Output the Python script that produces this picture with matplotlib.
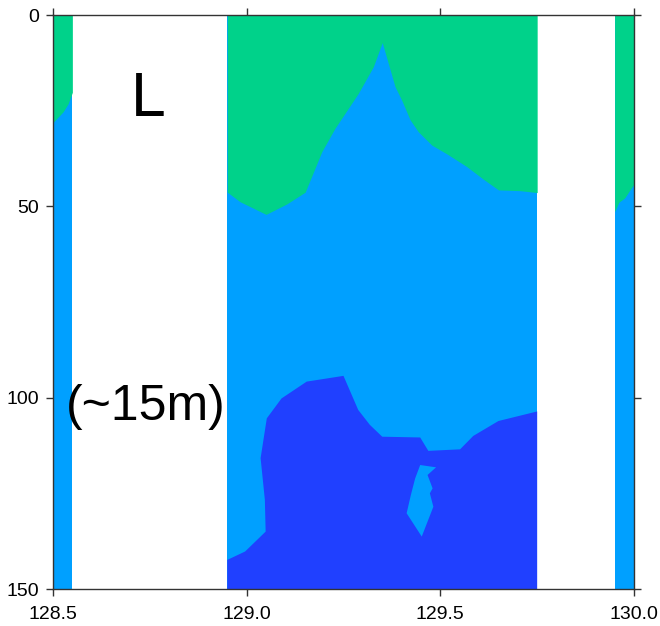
import numpy as np
import matplotlib
matplotlib.use("Agg")
import matplotlib.pyplot as plt

# Colour classes of the section
c_green = "#00D28A"
c_light = "#00A0FF"
c_dark = "#2040FF"

# Longitude ranges where the section has data
blocks = [(128.50, 128.55), (128.95, 129.75), (129.95, 130.00)]

# Depth of the green / light-blue boundary (m)
west_lon = [128.500, 128.526, 128.539, 128.550]
west_depth = [28.1, 25.3, 23.2, 20.2]

mid_lon = [128.950, 128.983, 129.050, 129.103, 129.151, 129.194, 129.228,
           129.288, 129.327, 129.350, 129.383, 129.400, 129.422, 129.443,
           129.478, 129.517, 129.568, 129.611, 129.650, 129.706, 129.750]
mid_depth = [46.3, 48.8, 52.1, 49.4, 46.3, 35.7, 29.6,
             20.5, 13.5, 7.2, 18.7, 22.2, 27.4, 30.5,
             34.0, 36.3, 39.6, 42.9, 45.7, 45.9, 46.4]

east_lon = [129.950, 129.961, 129.976, 129.989, 130.000]
east_depth = [51.4, 48.9, 47.8, 45.8, 44.2]

# Light-blue / dark-blue boundary in the central block
deep_lon = [128.950, 128.996, 129.049, 129.047, 129.036, 129.052, 129.090,
            129.155, 129.250, 129.288, 129.318, 129.350, 129.448, 129.469,
            129.551, 129.585, 129.650, 129.750]
deep_depth = [142.4, 140.2, 135.0, 126.7, 115.8, 105.4, 100.2,
              95.8, 94.3, 103.2, 107.1, 110.2, 110.4, 113.9,
              113.5, 110.0, 106.1, 103.6]

# Light-blue pocket inside the deep layer
pocket_lon = [129.448, 129.489, 129.467, 129.480, 129.473, 129.482,
              129.452, 129.413, 129.424, 129.435]
pocket_depth = [117.6, 118.2, 120.2, 123.7, 125.0, 128.5,
                136.3, 130.2, 125.4, 121.1]

x_ticks = [128.5, 129.0, 129.5, 130.0]
y_ticks = [0, 50, 100, 150]
depth_max = 150

plt.rcParams["font.family"] = ["Liberation Sans", "DejaVu Sans"]

fig = plt.figure(figsize=(6.6, 6.26), dpi=100)
ax = fig.add_axes([0.0803, 0.0591, 0.8803, 0.9169])

# Base layer over every data block
for x0, x1 in blocks:
    ax.fill_between([x0, x1], 0, depth_max, color=c_light, lw=0)

# Upper (green) layer
for lon, dep in [(west_lon, west_depth), (mid_lon, mid_depth),
                 (east_lon, east_depth)]:
    ax.fill_between(lon, 0, dep, color=c_green, lw=0)

# Deep (dark blue) layer
x0, x1 = blocks[1]
ax.fill(np.r_[deep_lon, x1, x0], np.r_[deep_depth, depth_max, depth_max],
        color=c_dark, lw=0)
ax.fill(pocket_lon, pocket_depth, color=c_light, lw=0)

ax.set_xlim(128.5, 130.0)
ax.set_ylim(depth_max, 0)
ax.set_xticks(x_ticks)
ax.set_xticklabels([f"{v:.1f}" for v in x_ticks])
ax.set_yticks(y_ticks)
ax.set_yticklabels([str(v) for v in y_ticks])

for lab in ax.get_xticklabels() + ax.get_yticklabels():
    lab.set_fontsize(14)

ax.tick_params(direction="out", length=5, width=1, color="#333333",
               top=True, right=True, labeltop=False, labelright=False)
ax.tick_params(axis="x", pad=7)
ax.tick_params(axis="y", pad=5)
for s in ax.spines.values():
    s.set_linewidth(1.0)
    s.set_color("#333333")

ax.text(128.745, 22, "L", fontsize=45, ha="center", va="center")
ax.text(128.740, 102.5, "(~15m)", fontsize=36, ha="center", va="center")

fig.savefig("out.png", dpi=100)
